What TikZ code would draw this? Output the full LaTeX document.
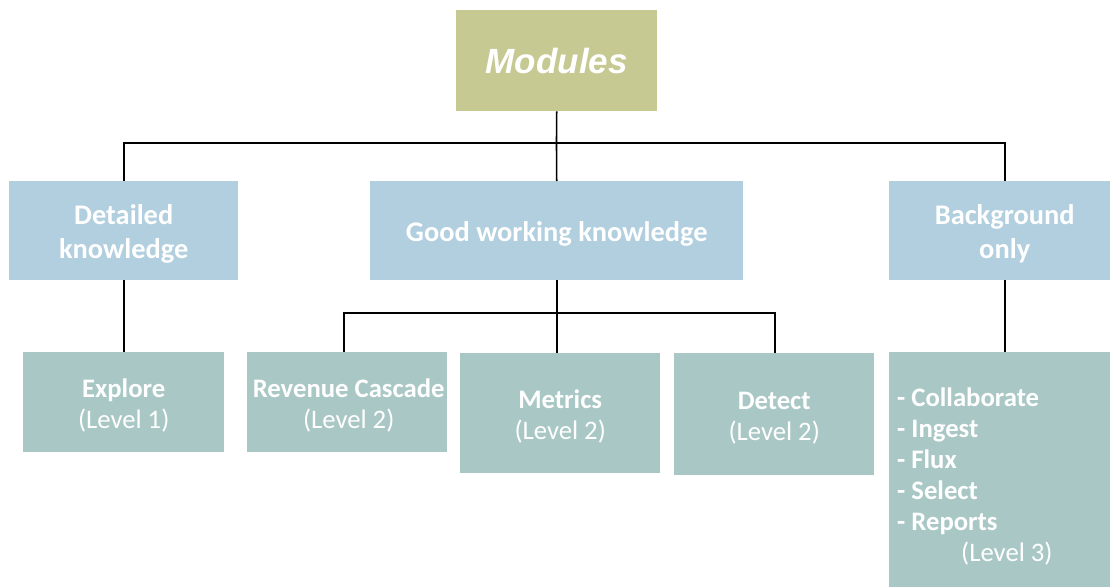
\documentclass[tikz,border=0pt]{standalone}
\usepackage{fontspec}
\usetikzlibrary{calc}
\setmainfont{Carlito}
\newfontfamily\arialfont{Liberation Sans}
\definecolor{modcol}{HTML}{C6C992}
\definecolor{lvlone}{HTML}{B2CFDF}
\definecolor{lvltwo}{HTML}{A9C8C5}
\tikzset{
  basebox/.style={anchor=north west, inner sep=0pt, draw=none},
  topbox/.style={basebox, fill=modcol},
  onebox/.style={basebox, fill=lvlone},
  twobox/.style={basebox, fill=lvltwo},
  modtext/.style={text=white, align=center, inner sep=0pt, font=\arialfont\bfseries\itshape\fontsize{35}{40}\selectfont},
  onetext/.style={text=white, align=center, inner sep=0pt, yshift=-3.5pt, font=\bfseries\fontsize{28.4}{34}\selectfont},
  twotext/.style={text=white, align=center, inner sep=0pt, yshift=-3.5pt, font=\fontsize{26.7}{31}\selectfont},
  link/.style={draw=black, line width=1.6pt}
}
\begin{document}
\begin{tikzpicture}[x=1pt,y=-1pt]
\useasboundingbox (0,0) rectangle (1110,586);
\clip (0,0) rectangle (1110,586);
% top
\node[topbox, minimum width=201pt, minimum height=101pt] (mod) at (456,10) {};
\node[modtext] (modt) at (mod.center) {Modules};
% level one
\node[onebox, minimum width=229pt, minimum height=99pt] (dk) at (9,181) {};
\node[onetext] (dkt) at (dk.center) {Detailed\\knowledge};
\node[onebox, minimum width=373pt, minimum height=99pt] (gwk) at (370,181) {};
\node[onetext] (gwkt) at (gwk.center) {Good working knowledge};
\node[onebox, minimum width=231pt, minimum height=99pt] (bg) at (889,181) {};
\node[onetext] (bgt) at (bg.center) {Background\\only};
% level two
\node[twobox, minimum width=201pt, minimum height=100pt] (exp) at (23,352) {};
\node[twotext] (expt) at (exp.center) {\textbf{Explore}\\(Level 1)};
\node[twobox, minimum width=200pt, minimum height=100pt] (rev) at (247,352) {};
\node[twotext, xshift=1.5pt] (revt) at (rev.center) {\textbf{Revenue Cascade}\\(Level 2)};
\node[twobox, minimum width=200pt, minimum height=120pt] (met) at (460,353) {};
\node[twotext] (mett) at (met.center) {\textbf{Metrics}\\(Level 2)};
\node[twobox, minimum width=200pt, minimum height=122pt] (det) at (674,353) {};
\node[twotext] (dett) at (det.center) {\textbf{Detect}\\(Level 2)};
\node[twobox, minimum width=231pt, minimum height=250pt] (lst) at (889,352) {};
\node[text=white, align=left, inner sep=0pt, anchor=north west, font=\fontsize{26.7}{31}\selectfont] (lstt) at (897,388)
  {\textbf{- Collaborate}\\\textbf{- Ingest}\\\textbf{- Flux}\\\textbf{- Select}\\\textbf{- Reports}\\\hspace*{64pt}(Level 3)};
% connectors
\coordinate (j1) at (556.5,143);
\coordinate (j2) at (556.5,313);
\draw[link] (mod.south) -- (j1);
\draw[link] (j1) -| (dk.north);
\draw[link] (j1) -| (bg.north);
\draw[link] (j1) -- (gwk.north);
\draw[link] (dk.south) -- (exp.north);
\draw[link] (bg.south) -- (lst.north);
\draw[link] (gwk.south) -- (gwk.south |- met.north);
\draw[link] (j2) -| ($(rev.north)+(-3,0)$);
\draw[link] (j2) -| ($(det.north)+(1,0)$);
\end{tikzpicture}
\end{document}
